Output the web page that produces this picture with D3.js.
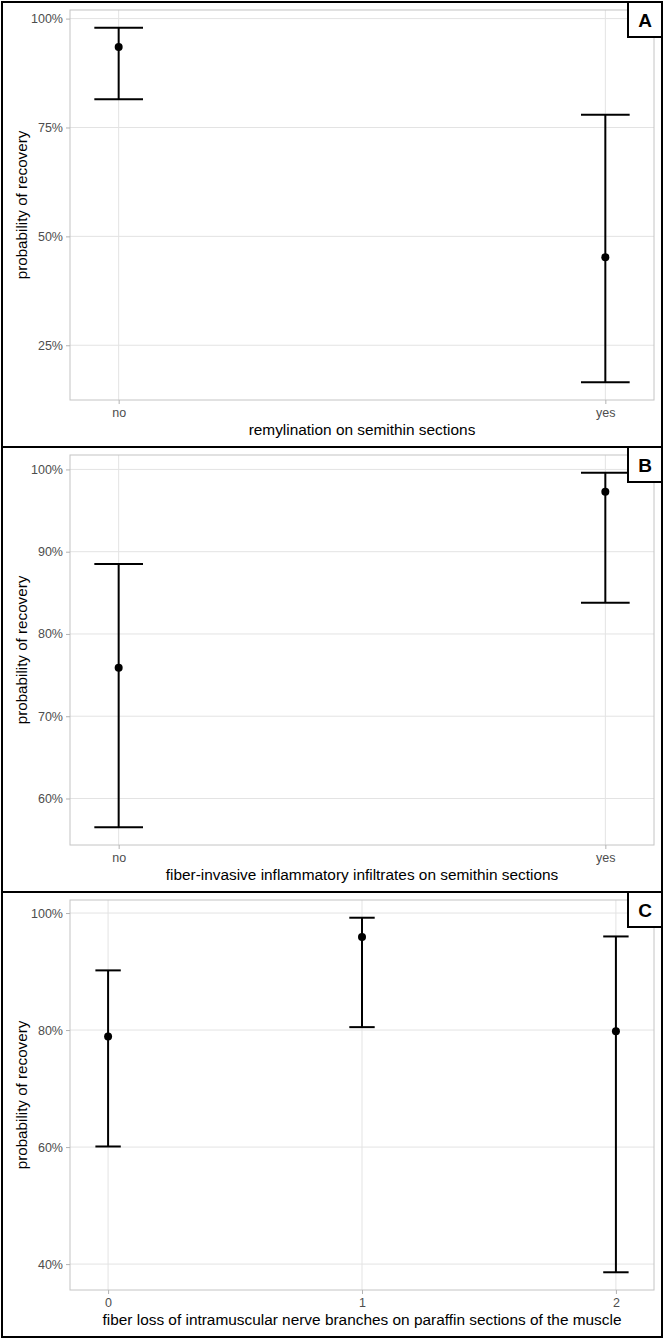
<!DOCTYPE html>
<html>
<head>
<meta charset="utf-8">
<title>Probability of recovery</title>
<script src="https://d3js.org/d3.v7.min.js"></script>
<style>
  body { margin: 0; background: #fff; }
  text { font-family: "Liberation Sans", Arial, sans-serif; }
</style>
</head>
<body>
<script>
// panel A: remylination
var catsA = ["no", "yes"];
var estA = [93.5, 45.2];
var lowA = [81.5, 16.5];
var highA = [97.9, 77.9];
var ticksA = [25, 50, 75, 100];

// panel B: fiber-invasive infiltrates
var catsB = ["no", "yes"];
var estB = [75.9, 97.3];
var lowB = [56.5, 83.8];
var highB = [88.5, 99.6];
var ticksB = [60, 70, 80, 90, 100];

// panel C: fiber loss
var catsC = ["0", "1", "2"];
var estC = [78.9, 95.9, 79.8];
var lowC = [60.1, 80.5, 38.6];
var highC = [90.2, 99.2, 96.0];
var ticksC = [40, 60, 80, 100];

var panels = [
  { label: "A", cats: catsA, est: estA, low: lowA, high: highA, ticks: ticksA,
    xTitle: "remylination on semithin sections", pad: 0.1 },
  { label: "B", cats: catsB, est: estB, low: lowB, high: highB, ticks: ticksB,
    xTitle: "fiber-invasive inflammatory infiltrates on semithin sections", pad: 0.1 },
  { label: "C", cats: catsC, est: estC, low: lowC, high: highC, ticks: ticksC,
    xTitle: "fiber loss of intramuscular nerve branches on paraffin sections of the muscle", pad: 0.15 }
];

var width = 665, height = 1339;
var panelH = 445, panelTop = 2;
var plotL = 70, plotR = 654, plotT = 8, plotB = 398;

var svg = d3.select("body").append("svg")
    .attr("width", width)
    .attr("height", height);

panels.forEach(function(p, i) {
  var y0 = panelTop + i * panelH;
  var g = svg.append("g").attr("transform", "translate(0," + y0 + ")");

  g.append("rect")
      .attr("x", 2).attr("y", 0)
      .attr("width", 660).attr("height", panelH)
      .attr("fill", "#fff").attr("stroke", "#000").attr("stroke-width", 2);

  // y domain with 5% expansion like ggplot
  var lo = d3.min(p.low), hi = d3.max(p.high), ex = (hi - lo) * 0.05;
  var y = d3.scaleLinear().domain([lo - ex, hi + ex]).range([plotB, plotT]);
  var n = p.cats.length - 1;
  var x = d3.scaleLinear().domain([-p.pad, n + p.pad]).range([plotL, plotR]);
  var idx = d3.range(p.cats.length);

  // grid
  g.selectAll(".hg").data(p.ticks).enter().append("line")
      .attr("x1", plotL).attr("x2", plotR)
      .attr("y1", function(d) { return y(d); }).attr("y2", function(d) { return y(d); })
      .attr("stroke", "#e3e3e3").attr("stroke-width", 1);
  g.selectAll(".vg").data(idx).enter().append("line")
      .attr("y1", plotT).attr("y2", plotB)
      .attr("x1", function(d) { return x(d); }).attr("x2", function(d) { return x(d); })
      .attr("stroke", "#e3e3e3").attr("stroke-width", 1);

  g.append("rect")
      .attr("x", plotL).attr("y", plotT)
      .attr("width", plotR - plotL).attr("height", plotB - plotT)
      .attr("fill", "none").attr("stroke", "#c4c4c4").attr("stroke-width", 1);

  // axes
  var yAxis = d3.axisLeft(y).tickValues(p.ticks).tickSize(4).tickPadding(3)
      .tickFormat(function(d) { return d + "%"; });
  var ya = g.append("g").attr("transform", "translate(" + plotL + ",0)").call(yAxis);
  var xAxis = d3.axisBottom(x).tickValues(idx).tickSize(4).tickPadding(4)
      .tickFormat(function(d) { return p.cats[d]; });
  var xa = g.append("g").attr("transform", "translate(0," + plotB + ")").call(xAxis);
  [ya, xa].forEach(function(a) {
    a.select(".domain").remove();
    a.selectAll(".tick line").attr("stroke", "#b3b3b3");
    a.selectAll(".tick text").attr("fill", "#4d4d4d").style("font-size", "12.5px");
  });

  g.append("text")
      .attr("x", (plotL + plotR) / 2).attr("y", plotB + 35)
      .attr("text-anchor", "middle").style("font-size", "15.4px").attr("fill", "#000")
      .text(p.xTitle);
  g.append("text")
      .attr("transform", "translate(27," + ((plotT + plotB) / 2) + ") rotate(-90)")
      .attr("text-anchor", "middle").style("font-size", "15.2px").attr("fill", "#000")
      .text("probability of recovery");

  // error bars, cap width 0.1 x-units
  var cap = 0.05;
  g.selectAll(".eb").data(idx).enter().append("line")
      .attr("x1", function(d) { return x(d); }).attr("x2", function(d) { return x(d); })
      .attr("y1", function(d) { return y(p.low[d]); }).attr("y2", function(d) { return y(p.high[d]); })
      .attr("stroke", "#000").attr("stroke-width", 2);
  ["low", "high"].forEach(function(k) {
    g.selectAll(".cap-" + k).data(idx).enter().append("line")
        .attr("x1", function(d) { return x(d - cap); }).attr("x2", function(d) { return x(d + cap); })
        .attr("y1", function(d) { return y(p[k][d]); }).attr("y2", function(d) { return y(p[k][d]); })
        .attr("stroke", "#000").attr("stroke-width", 2);
  });
  g.selectAll(".pt").data(idx).enter().append("circle")
      .attr("cx", function(d) { return x(d); })
      .attr("cy", function(d) { return y(p.est[d]); })
      .attr("r", 4).attr("fill", "#000");

  // panel letter
  g.append("rect")
      .attr("x", 628).attr("y", 0).attr("width", 34).attr("height", 35)
      .attr("fill", "#fff").attr("stroke", "#000").attr("stroke-width", 2);
  g.append("text")
      .attr("x", 645).attr("y", 25)
      .attr("text-anchor", "middle").style("font-size", "19px").style("font-weight", "bold")
      .text(p.label);
});
</script>
</body>
</html>
